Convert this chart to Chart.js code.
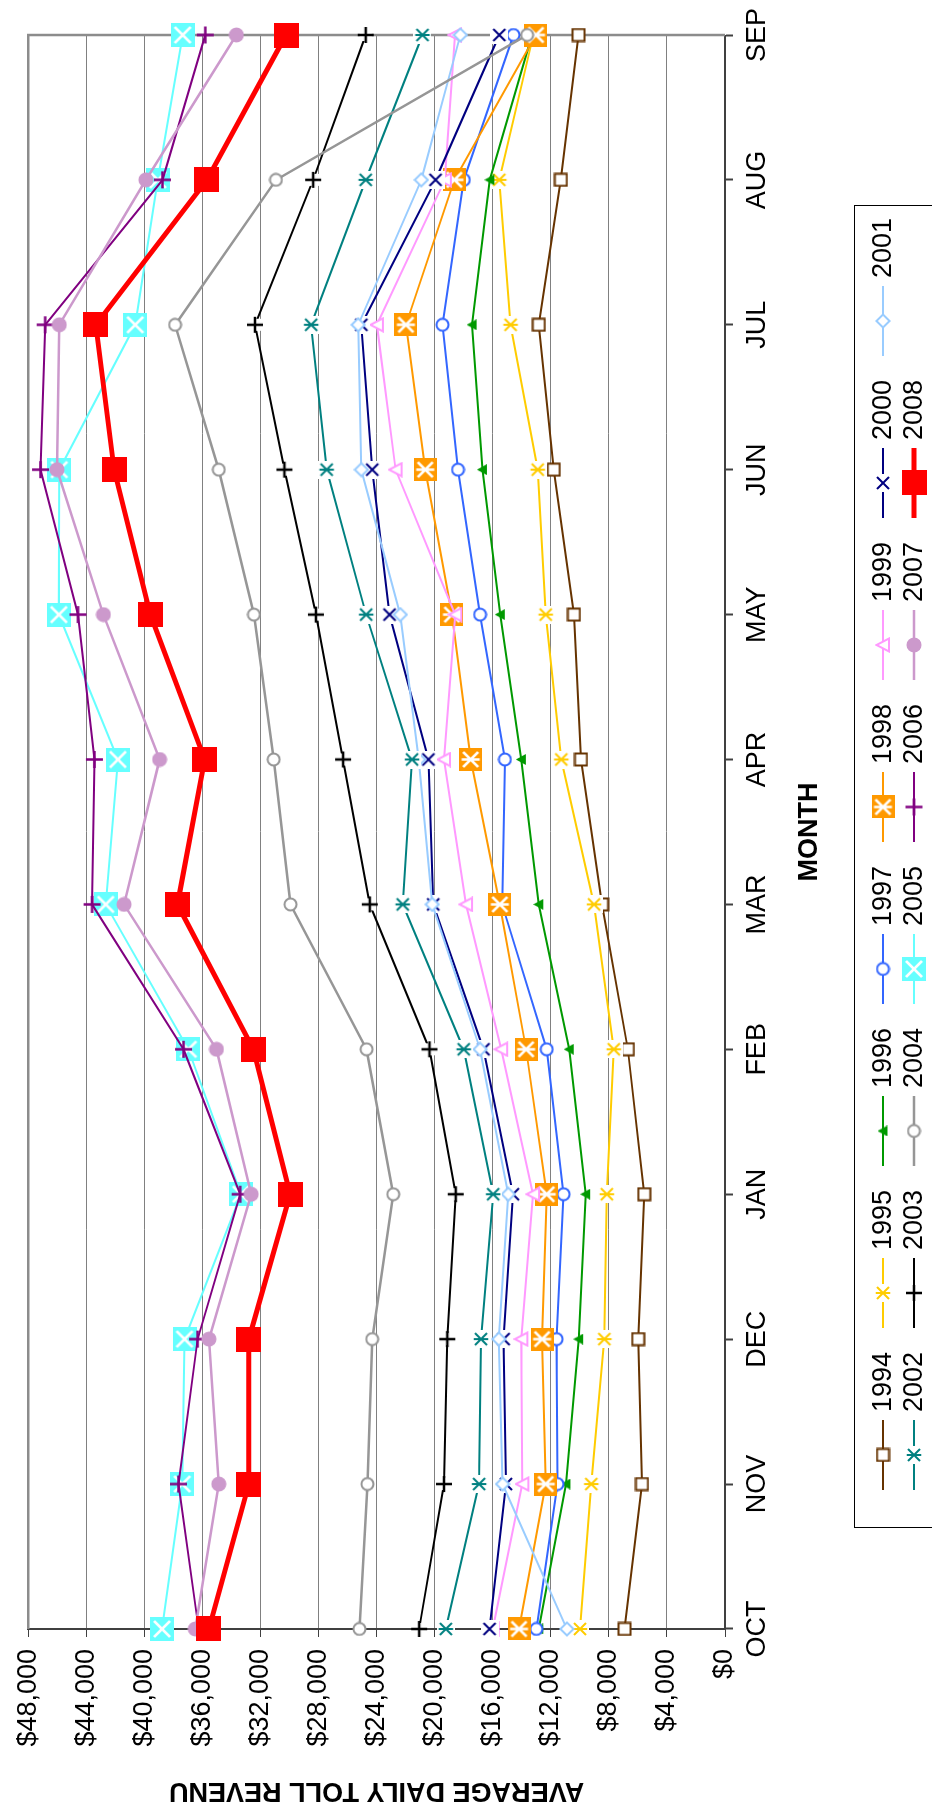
<!DOCTYPE html>
<html lang="en">
<head>
<meta charset="UTF-8">
<title>Average daily toll revenue by month</title>
<style>
  html, body { margin: 0; padding: 0; background: #fff; }
  body { width: 932px; height: 1812px; overflow: hidden; position: relative; }
  /* chart is laid out landscape, then turned a quarter counter-clockwise */
  #wrap {
    position: absolute; left: 0; top: 0;
    width: 1812px; height: 932px;
    transform-origin: 0 0;
    transform: translate(0, 1812px) rotate(-90deg);
  }
</style>
</head>
<body>
<div id="wrap"><canvas id="chart" width="1812" height="932"></canvas></div>

<script src="https://cdn.jsdelivr.net/npm/chart.js"></script>
<script>
// fiscal year months, Oct -> Sep
const months = ['OCT', 'NOV', 'DEC', 'JAN', 'FEB', 'MAR', 'APR', 'MAY', 'JUN', 'JUL', 'AUG', 'SEP'];
const years = ['1994', '1995', '1996', '1997', '1998', '1999', '2000', '2001',
               '2002', '2003', '2004', '2005', '2006', '2007', '2008'];

// average daily toll revenue ($)
const rev1994 = [6920, 5720, 5980, 5560, 6690, 8470, 9920, 10410, 11800, 12830, 11310, 10090];
const rev1995 = [9990, 9210, 8310, 8140, 7660, 9020, 11280, 12350, 12900, 14770, 15550, 13200];
const rev1996 = [12830, 10960, 10080, 9600, 10730, 12830, 14030, 15480, 16710, 17420, 16200, 13300];
const rev1997 = [12990, 11540, 11600, 11120, 12280, 15350, 15160, 16870, 18390, 19460, 17990, 14570];
const rev1998 = [14190, 12350, 12600, 12280, 13700, 15510, 17520, 18810, 20650, 21980, 18640, 13020];
const rev1999 = [16000, 13960, 14030, 13220, 15420, 17840, 19360, 18580, 22690, 23980, 19300, 18600];
const rev2000 = [16220, 15090, 15250, 14610, 16640, 20100, 20430, 23110, 24300, 25050, 19940, 15550];
const rev2001 = [10890, 15320, 15580, 14930, 16870, 20170, 21100, 22370, 25050, 25270, 20920, 18230];
const rev2002 = [19230, 16940, 16810, 15970, 18000, 22200, 21560, 24720, 27440, 28510, 24750, 20840];
const rev2003 = [21070, 19360, 19130, 18550, 20360, 24470, 26310, 28180, 30350, 32380, 28370, 24750];
const rev2004 = [25180, 24630, 24300, 22850, 24690, 29930, 31090, 32450, 34870, 37880, 30930, 13630];
const rev2005 = [38780, 37390, 37230, 33350, 36970, 42660, 41820, 45890, 45860, 40630, 39070, 37360];
const rev2006 = [36260, 37650, 36330, 33400, 37300, 43600, 43440, 44570, 47150, 46830, 38750, 35800];
const rev2007 = [36490, 34870, 35550, 32640, 35030, 41400, 38950, 42820, 46020, 45860, 39890, 33660];
const rev2008 = [35550, 32800, 32800, 29960, 32480, 37720, 35840, 39590, 42080, 43340, 35690, 30240];

const series = [rev1994, rev1995, rev1996, rev1997, rev1998, rev1999, rev2000, rev2001,
                rev2002, rev2003, rev2004, rev2005, rev2006, rev2007, rev2008];

const FONT = "'Liberation Sans', Arial, sans-serif";

// ---- marker bitmaps (old Excel style) ----
function marker(size, paint) {
  const c = document.createElement('canvas');
  c.width = size; c.height = size;
  const g = c.getContext('2d');
  g.translate(size / 2, size / 2);
  paint(g, size / 2);
  return c;
}
function lines(g, segs, color, w) {
  g.strokeStyle = color; g.lineWidth = w; g.lineCap = 'butt';
  g.beginPath();
  segs.forEach(s => { g.moveTo(s[0], s[1]); g.lineTo(s[2], s[3]); });
  g.stroke();
}
const xSegs = r => [[-r, -r, r, r], [-r, r, r, -r]];
const starSegs = r => [[-r, -r, r, r], [-r, r, r, -r], [0, -r * 1.2, 0, r * 1.2]];
const plusSegs = r => [[-r, 0, r, 0], [0, -r, 0, r]];

const paints = {
  openSquare: (c) => (g, r) => {
    g.fillStyle = '#fff'; g.fillRect(-r + 1, -r + 1, 2 * r - 2, 2 * r - 2);
    g.strokeStyle = c; g.lineWidth = 2; g.strokeRect(-r + 1.5, -r + 1.5, 2 * r - 3, 2 * r - 3);
  },
  star: (c) => (g, r) => {
    g.fillStyle = '#fff'; g.fillRect(-r, -r, 2 * r, 2 * r);
    lines(g, starSegs(r - 3), c, 2);
  },
  triangle: (c) => (g, r) => {
    g.fillStyle = c; g.beginPath();
    g.moveTo(0, -r); g.lineTo(r, r * 0.8); g.lineTo(-r, r * 0.8); g.closePath(); g.fill();
  },
  openTriangle: (c) => (g, r) => {
    g.fillStyle = '#fff'; g.strokeStyle = c; g.lineWidth = 2; g.beginPath();
    g.moveTo(0, -r + 1.5); g.lineTo(r - 1.5, r - 2); g.lineTo(-r + 1.5, r - 2); g.closePath();
    g.fill(); g.stroke();
  },
  openCircle: (c) => (g, r) => {
    g.fillStyle = '#fff'; g.strokeStyle = c; g.lineWidth = 2;
    g.beginPath(); g.arc(0, 0, r - 1.5, 0, Math.PI * 2); g.fill(); g.stroke();
  },
  dot: (c) => (g, r) => {
    g.fillStyle = c; g.beginPath(); g.arc(0, 0, r - 0.5, 0, Math.PI * 2); g.fill();
  },
  openDiamond: (c) => (g, r) => {
    g.fillStyle = '#fff'; g.strokeStyle = c; g.lineWidth = 2; g.beginPath();
    g.moveTo(0, -r + 1.5); g.lineTo(r - 1.5, 0); g.lineTo(0, r - 1.5); g.lineTo(-r + 1.5, 0); g.closePath();
    g.fill(); g.stroke();
  },
  cross: (c) => (g, r) => {
    g.fillStyle = '#fff'; g.fillRect(-r, -r, 2 * r, 2 * r);
    lines(g, xSegs(r - 3), c, 2);
  },
  plus: (c) => (g, r) => {
    g.fillStyle = '#fff'; g.fillRect(-r + 3, -r + 3, 2 * r - 6, 2 * r - 6);
    lines(g, plusSegs(r - 1), c, 2.5);
  },
  barePlus: (c) => (g, r) => { lines(g, plusSegs(r - 1), c, 2.5); },
  boxX: (c) => (g, r) => {
    g.fillStyle = c; g.fillRect(-r, -r, 2 * r, 2 * r);
    lines(g, xSegs(r - 4), '#fff', 2.5);
  },
  boxStar: (c) => (g, r) => {
    g.fillStyle = c; g.fillRect(-r, -r, 2 * r, 2 * r);
    lines(g, starSegs(r - 4), '#fff', 2.5);
  },
  square: (c) => (g, r) => { g.fillStyle = c; g.fillRect(-r, -r, 2 * r, 2 * r); }
};

// one style row per year, same order as `years`
const styles = [
  { color: '#663300', mark: 'openSquare',   size: 15, width: 2 },
  { color: '#FFCC00', mark: 'star',         size: 18, width: 2 },
  { color: '#009900', mark: 'triangle',     size: 11, width: 2 },
  { color: '#3366FF', mark: 'openCircle',   size: 15, width: 2 },
  { color: '#FF9900', mark: 'boxStar',      size: 23, width: 2 },
  { color: '#FF99FF', mark: 'openTriangle', size: 16, width: 2 },
  { color: '#000080', mark: 'cross',        size: 18, width: 2 },
  { color: '#99CCFF', mark: 'openDiamond',  size: 16, width: 2 },
  { color: '#008080', mark: 'star',         size: 18, width: 2 },
  { color: '#000000', mark: 'plus',         size: 18, width: 2 },
  { color: '#969696', mark: 'openCircle',   size: 15, width: 2.5 },
  { color: '#66FFFF', mark: 'boxX',         size: 24, width: 2 },
  { color: '#800080', mark: 'barePlus',     size: 19, width: 2 },
  { color: '#CC99CC', mark: 'dot',          size: 16, width: 2.5 },
  { color: '#FF0000', mark: 'square',       size: 25, width: 5 }
];
const markers = styles.map(s => marker(s.size, paints[s.mark](s.color)));

const datasets = years.map((y, i) => ({
  label: y,
  data: series[i],
  borderColor: styles[i].color,
  backgroundColor: styles[i].color,
  borderWidth: styles[i].width,
  pointStyle: markers[i],
  pointRadius: styles[i].size / 2,
  tension: 0,
  clip: false,
  order: years.length - i
}));

// plot frame (top/right) + boxed legend in two rows under the axis title
const frameAndLegend = {
  id: 'frameAndLegend',
  beforeDatasetsDraw(chart) {
    const { ctx, chartArea: a } = chart;
    ctx.save();
    ctx.strokeStyle = '#8c8c8c';
    ctx.lineWidth = 2.5;
    ctx.beginPath();
    ctx.moveTo(a.left, a.top);
    ctx.lineTo(a.right, a.top);
    ctx.lineTo(a.right, a.bottom);
    ctx.stroke();
    ctx.restore();
  },
  afterDraw(chart) {
    const ctx = chart.ctx;
    ctx.save();
    ctx.strokeStyle = '#000';
    ctx.lineWidth = 1;
    ctx.strokeRect(284.5, 854.5, 1322, 140);
    ctx.font = '27px ' + FONT;
    ctx.textBaseline = 'middle';
    ctx.fillStyle = '#000';
    years.forEach((y, i) => {
      const row = i < 8 ? 0 : 1;
      const col = i < 8 ? i : i - 8;
      const x0 = 322 + col * 162;
      const yy = row ? 914 : 883;
      ctx.strokeStyle = styles[i].color;
      ctx.lineWidth = styles[i].width;
      ctx.beginPath();
      ctx.moveTo(x0, yy);
      ctx.lineTo(x0 + 70, yy);
      ctx.stroke();
      const m = markers[i];
      ctx.drawImage(m, x0 + 35 - m.width / 2, yy - m.height / 2);
      ctx.fillText(y, x0 + 78, yy + 1);
    });
    ctx.restore();
  }
};

new Chart(document.getElementById('chart'), {
  type: 'line',
  data: { labels: months, datasets: datasets },
  options: {
    responsive: false,
    animation: false,
    devicePixelRatio: 1,
    layout: { padding: { left: 0, top: 24, right: 35, bottom: 97 } },
    font: { family: FONT },
    plugins: { legend: { display: false }, tooltip: { enabled: false } },
    scales: {
      x: {
        offset: false,
        afterFit(scale) { scale.height = 110; },
        grid: { drawOnChartArea: false, tickColor: '#404040', tickLength: 8, tickWidth: 2 },
        border: { color: '#404040', width: 2 },
        ticks: { color: '#000', padding: 8, maxRotation: 0, font: { family: FONT, size: 27 } },
        title: {
          display: true, text: 'MONTH', color: '#000',
          padding: { top: 0, bottom: 9 },
          font: { family: FONT, size: 27, weight: 'bold' }
        }
      },
      y: {
        min: 0,
        max: 48000,
        afterFit(scale) { scale.width = 183; },
        grid: { color: '#808080', lineWidth: 1, tickColor: '#404040', tickLength: 8 },
        border: { color: '#404040', width: 2 },
        ticks: {
          stepSize: 4000,
          color: '#000',
          padding: 12,
          font: { family: FONT, size: 27 },
          callback: v => '$' + v.toLocaleString('en-US')
        },
        title: {
          display: true, text: 'AVERAGE DAILY TOLL REVENU', color: '#000',
          padding: { top: 5, bottom: 0 },
          font: { family: FONT, size: 27, weight: 'bold' }
        }
      }
    }
  },
  plugins: [frameAndLegend]
});
</script>
</body>
</html>
